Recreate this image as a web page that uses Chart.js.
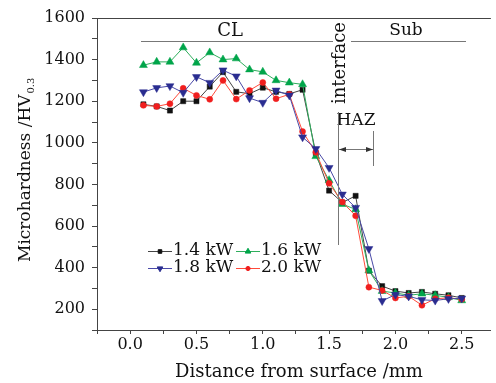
<!DOCTYPE html>
<html>
<head>
<meta charset="utf-8">
<script src="https://cdn.jsdelivr.net/npm/chart.js@4/dist/chart.umd.min.js"></script>
<style>
html,body{margin:0;padding:0;background:#fff;}
canvas{display:block;}
</style>
</head>
<body>
<canvas id="c" width="496" height="383"></canvas>
<script>
// ---- data ----
const distance = [0.1,0.2,0.3,0.4,0.5,0.6,0.7,0.8,0.9,1.0,1.1,1.2,1.3,1.4,1.5,1.6,1.7,1.8,1.9,2.0,2.1,2.2,2.3,2.4,2.5];
const kw14 = [1185,1175,1155,1200,1200,1270,1340,1245,1236,1265,1245,1235,1255,950,770,713,745,385,311,287,278,283,274,267,254];
const kw16 = [1373,1389,1389,1458,1384,1434,1400,1405,1352,1341,1300,1289,1281,935,820,705,680,386,287,278,267,274,267,257,242];
const kw18 = [1244,1264,1273,1241,1317,1289,1349,1320,1215,1193,1252,1228,1027,971,880,752,688,490,240,270,262,245,242,250,252];
const kw20 = [1180,1175,1188,1262,1228,1209,1300,1210,1252,1290,1212,1233,1054,954,805,715,649,306,290,254,262,219,250,255,248];
const seriesLabels = ['1.4 kW','1.6 kW','1.8 kW','2.0 kW'];
const xTickValues = [0.0, 0.5, 1.0, 1.5, 2.0, 2.5];
const xMinorTicks = [-0.25, 0.25, 0.75, 1.25, 1.75, 2.25];
const yTickValues = [200, 400, 600, 800, 1000, 1200, 1400, 1600];
const yMinorTicks = [100, 300, 500, 700, 900, 1100, 1300, 1500];

const FONT = '"DejaVu Serif", serif';
const styles = [
  {line:'#444', pt:'#111', ps:'rect', rot:0, r:3.6},
  {line:'#2fae5c', pt:'#00a54a', ps:'triangle', rot:0, r:4.6},
  {line:'#4a4aa8', pt:'#2a2d90', ps:'triangle', rot:180, r:4.6},
  {line:'#ff4a3a', pt:'#f01e1e', ps:'circle', rot:0, r:3}
];
const allSeries = [kw14, kw16, kw18, kw20];

const datasets = allSeries.map((arr, k) => ({
  label: seriesLabels[k],
  data: distance.map((x, i) => ({x: x, y: arr[i]})),
  showLine: true,
  borderColor: styles[k].line,
  borderWidth: 1,
  backgroundColor: styles[k].pt,
  pointBackgroundColor: styles[k].pt,
  pointBorderColor: styles[k].pt,
  pointBorderWidth: 0.5,
  pointStyle: styles[k].ps,
  pointRotation: styles[k].rot,
  pointRadius: styles[k].r,
  tension: 0,
  order: [3,2,0,1][k]
}));

const annot = {
  id: 'annot',
  beforeDraw(chart) {
    const ctx = chart.ctx;
    ctx.save();
    ctx.fillStyle = '#fff';
    ctx.fillRect(0, 0, chart.width, chart.height);
    ctx.restore();
  },
  afterDraw(chart) {
    const ctx = chart.ctx;
    const a = chart.chartArea;
    ctx.save();
    // top frame
    ctx.strokeStyle = '#444';
    ctx.lineWidth = 1;
    ctx.beginPath();
    ctx.moveTo(a.left, a.top + 0.5);
    ctx.lineTo(a.right, a.top + 0.5);
    ctx.stroke();

    ctx.fillStyle = '#111';
    ctx.textAlign = 'center';
    ctx.textBaseline = 'middle';
    ctx.font = '18px ' + FONT;
    ctx.fillText('CL', 230, 31);
    ctx.font = '17px ' + FONT;
    ctx.fillText('Sub', 406, 31);
    ctx.fillText('HAZ', 356, 121);

    // region lines
    ctx.strokeStyle = '#777';
    ctx.lineWidth = 1;
    ctx.beginPath();
    ctx.moveTo(141, 41.5); ctx.lineTo(333, 41.5);
    ctx.moveTo(351, 41.5); ctx.lineTo(466, 41.5);
    ctx.moveTo(338.5, 112); ctx.lineTo(338.5, 245);
    ctx.moveTo(373.5, 131); ctx.lineTo(373.5, 166);
    ctx.moveTo(339, 149.5); ctx.lineTo(373, 149.5);
    ctx.stroke();
    // arrowheads
    ctx.fillStyle = '#333';
    ctx.beginPath();
    ctx.moveTo(339, 149.5); ctx.lineTo(346, 147); ctx.lineTo(346, 152); ctx.closePath();
    ctx.moveTo(373, 149.5); ctx.lineTo(366, 147); ctx.lineTo(366, 152); ctx.closePath();
    ctx.fill();

    // interface (vertical)
    ctx.fillStyle = '#111';
    ctx.save();
    ctx.translate(340, 63);
    ctx.rotate(-Math.PI / 2);
    ctx.font = '18px ' + FONT;
    ctx.textAlign = 'center';
    ctx.textBaseline = 'middle';
    ctx.fillText('interface', 0, 0);
    ctx.restore();

    // y axis title with subscript
    ctx.save();
    ctx.translate(30, 262);
    ctx.rotate(-Math.PI / 2);
    ctx.textAlign = 'left';
    ctx.textBaseline = 'alphabetic';
    ctx.font = '17px ' + FONT;
    const t1 = 'Microhardness /HV';
    ctx.fillText(t1, 0, 0);
    const w1 = ctx.measureText(t1).width;
    ctx.font = '10px ' + FONT;
    ctx.fillText('0.3', w1 + 1, 4);
    ctx.restore();

    // x axis title
    ctx.font = '18px ' + FONT;
    ctx.textAlign = 'center';
    ctx.textBaseline = 'middle';
    ctx.fillText('Distance from surface /mm', 299, 372);

    // legend
    const pos = [[148, 251], [236, 251], [148, 268], [236, 268]];
    ctx.font = '17px ' + FONT;
    ctx.textAlign = 'left';
    ctx.textBaseline = 'middle';
    for (let k = 0; k < 4; k++) {
      const [lx, ly] = pos[k];
      ctx.strokeStyle = styles[k].line;
      ctx.lineWidth = 1;
      ctx.beginPath();
      ctx.moveTo(lx, ly + 0.5); ctx.lineTo(lx + 24, ly + 0.5);
      ctx.stroke();
      ctx.fillStyle = styles[k].pt;
      ctx.strokeStyle = styles[k].pt;
      Chart.helpers.drawPoint(ctx, {pointStyle: styles[k].ps, rotation: styles[k].rot, radius: styles[k].r * 0.7, borderWidth: 0.5}, lx + 12, ly + 0.5);
      ctx.fillStyle = '#111';
      ctx.fillText(seriesLabels[k], lx + 25, ly);
    }
    ctx.restore();
  }
};

function makeTicks(major, minor) {
  return major.concat(minor).sort((p, q) => p - q).map(v => ({value: v}));
}

new Chart(document.getElementById('c'), {
  type: 'scatter',
  data: {datasets: datasets},
  options: {
    responsive: false,
    devicePixelRatio: 1,
    animation: false,
    layout: {padding: {left: 0, top: 18, right: 0, bottom: 0}},
    plugins: {legend: {display: false}, tooltip: {enabled: false}},
    scales: {
      x: {
        type: 'linear', min: -0.25, max: 2.72,
        afterBuildTicks(s) { s.ticks = makeTicks(xTickValues, xMinorTicks); },
        afterFit(s) { s.height = 53; },
        border: {display: true, color: '#444', width: 1},
        grid: {drawOnChartArea: false, drawTicks: true, tickLength: 4, color: '#444'},
        ticks: {
          autoSkip: false, maxRotation: 0, padding: 1,
          color: '#111', font: {family: FONT, size: 16},
          callback(v) {
            return xTickValues.some(t => Math.abs(t - v) < 1e-6) ? Number(v).toFixed(1) : '';
          }
        }
      },
      y: {
        type: 'linear', min: 100, max: 1600,
        afterBuildTicks(s) { s.ticks = makeTicks(yTickValues, yMinorTicks); },
        afterFit(s) { s.width = 97; },
        border: {display: true, color: '#444', width: 1},
        grid: {drawOnChartArea: false, drawTicks: true, tickLength: 5, color: '#444'},
        ticks: {
          autoSkip: false, padding: 7,
          color: '#111', font: {family: FONT, size: 16},
          callback(v) {
            return yTickValues.includes(Math.round(v)) ? String(Math.round(v)) : '';
          }
        }
      }
    }
  },
  plugins: [annot]
});
</script>
</body>
</html>
